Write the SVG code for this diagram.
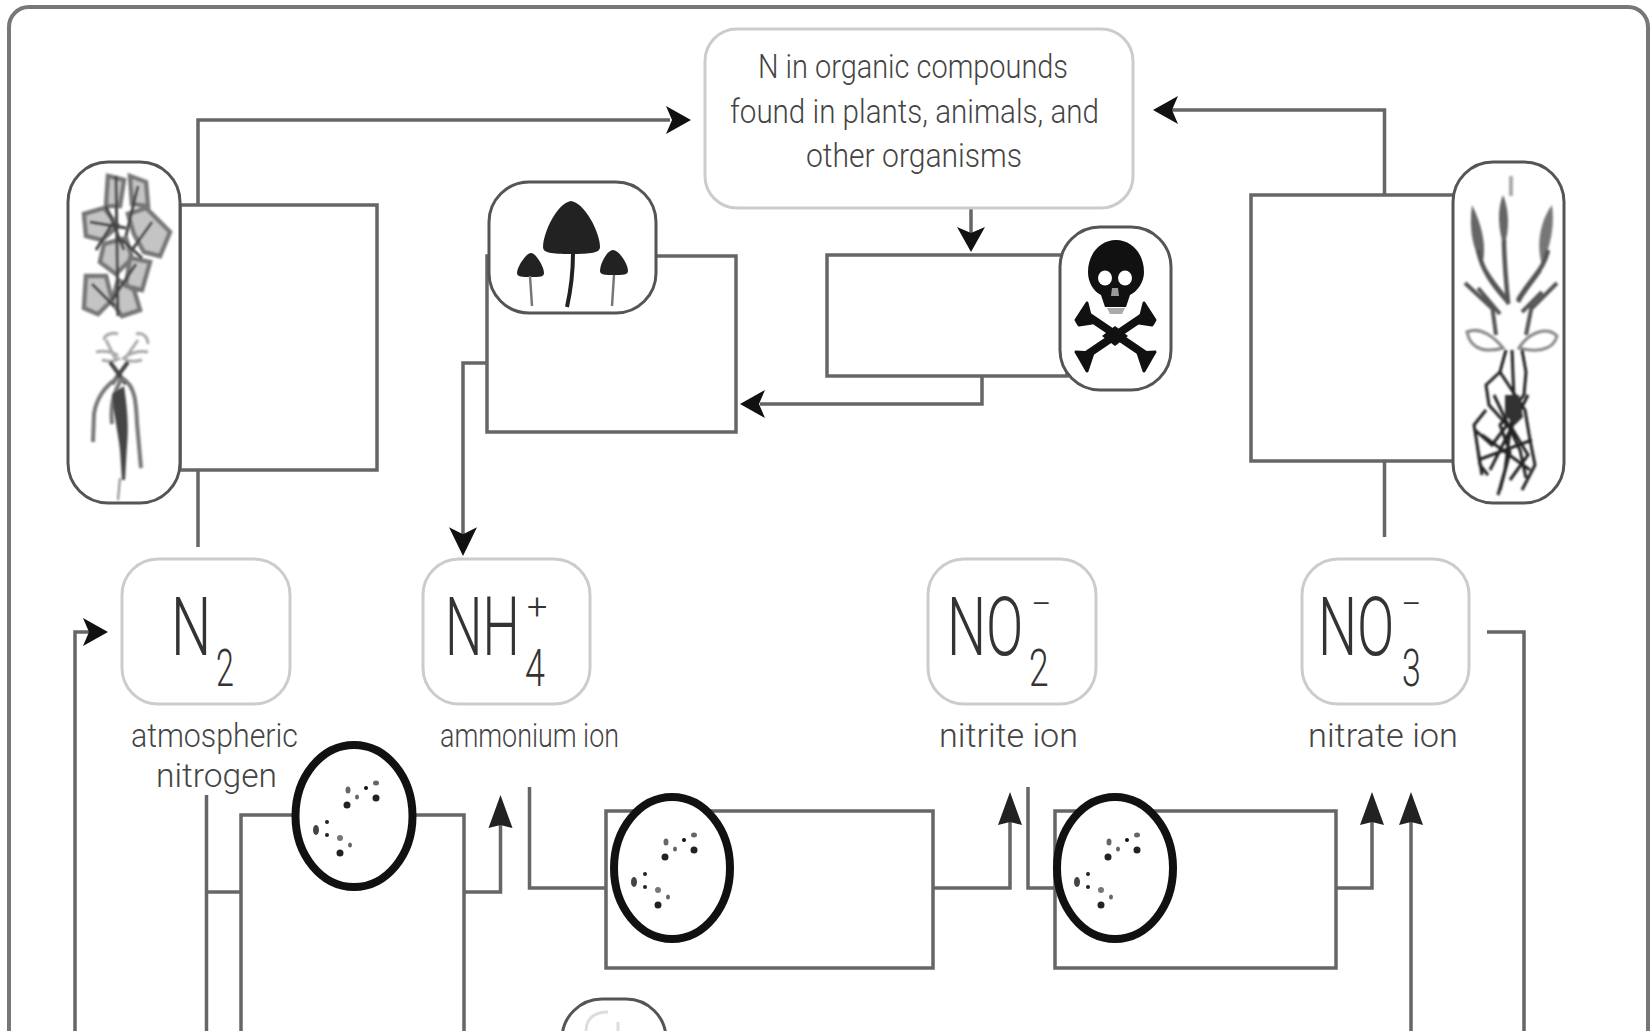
<svg xmlns="http://www.w3.org/2000/svg" width="1652" height="1031" viewBox="0 0 1652 1031">
<style>
.ln{fill:none;stroke:#666;stroke-width:3.5;stroke-linejoin:miter}
.pill{fill:#fff;stroke:#555;stroke-width:3}
.nb{fill:#fff;stroke:#ccc;stroke-width:3}
.bac{fill:#fff;stroke:#111;stroke-width:8}
.t{font-family:"Roboto","Liberation Sans",sans-serif;font-weight:300;fill:#444}
.f{font-family:"Roboto","Liberation Sans",sans-serif;font-weight:300;fill:#333}
</style>
<defs>
<filter id="soft" x="-10%" y="-10%" width="120%" height="120%"><feGaussianBlur stdDeviation="0.8"/></filter>
<path id="ah" d="M0 0L-25 -14L-19 0L-25 14Z" fill="#111"/>
<path id="au" d="M0 0L-12 33L0 30L12 33Z" fill="#222"/>
<g id="dots">
<ellipse cx="-6" cy="-26" rx="2.500" ry="3.500" fill="#666"/><ellipse cx="-7" cy="-11" rx="3.500" ry="3.500" fill="#222"/><ellipse cx="3" cy="-19" rx="2" ry="2.500" fill="#666"/><ellipse cx="12" cy="-28" rx="2" ry="2" fill="#111"/><ellipse cx="22" cy="-33" rx="3" ry="2.500" fill="#666"/><ellipse cx="22" cy="-18" rx="3.500" ry="3.500" fill="#222"/>
<ellipse cx="-38" cy="14" rx="3" ry="5" fill="#444"/><ellipse cx="-27" cy="6" rx="2" ry="2" fill="#222"/><ellipse cx="-27" cy="19" rx="2" ry="2" fill="#222"/><ellipse cx="-14" cy="22" rx="3" ry="3" fill="#777"/><ellipse cx="-4" cy="29" rx="2" ry="2.500" fill="#666"/><ellipse cx="-14" cy="37" rx="3.500" ry="3.500" fill="#222"/>
</g>
</defs>
<rect width="1652" height="1031" fill="#fff"/>
<rect x="9" y="7" width="1639" height="1100" rx="20" fill="none" stroke="#777" stroke-width="4"/>
<g id="connectors">
<path class="ln" d="M198 205V120H670"/><path class="ln" d="M198 470V547"/>
<rect class="ln" x="180" y="205" width="197" height="265"/>
<rect class="ln" x="487" y="256" width="249" height="176"/>
<path class="ln" d="M487 363H463V535"/>
<path class="ln" d="M982 376V404H760"/>
<rect class="ln" x="827" y="255" width="240" height="121"/>
<path class="ln" d="M971 208V235"/>
<rect class="ln" x="1251" y="195" width="210" height="266"/>
<path class="ln" d="M1384.500 195V110H1172"/><path class="ln" d="M1384.500 461V537"/>
<path class="ln" d="M75 1031V632H90"/>
<path class="ln" d="M206.500 795V1031"/><path class="ln" d="M206.500 892H241"/>
<path class="ln" d="M241 1031V815H464V1031"/>
<path class="ln" d="M464 892H500.500V820"/>
<path class="ln" d="M529.500 787V888H606"/>
<path class="ln" d="M606 811H933V968H606Z"/>
<path class="ln" d="M933 888H1010V815"/>
<path class="ln" d="M1028 787V888H1055"/>
<path class="ln" d="M1055 811H1336V968H1055Z"/>
<path class="ln" d="M1336 888H1372V815"/>
<path class="ln" d="M1411 1031V815"/>
<path class="ln" d="M1487 632H1524V1031"/>
<use href="#ah" transform="translate(691 120)"/>
<use href="#ah" transform="translate(1153 110) rotate(180)"/>
<use href="#ah" transform="translate(971 252) rotate(90)"/>
<use href="#ah" transform="translate(740 404) rotate(180)"/>
<use href="#ah" transform="translate(463 556) rotate(90) scale(1.150 1)"/>
<use href="#ah" transform="translate(108 632)"/>
<use href="#au" transform="translate(500.500 795)"/>
<use href="#au" transform="translate(1010 792)"/>
<use href="#au" transform="translate(1372 792)"/>
<use href="#au" transform="translate(1411 792)"/>
</g>
<g id="organic">
<rect class="nb" x="705" y="29" width="428" height="179" rx="32"/>
<text class="t" x="758" y="78" font-size="34" textLength="310" lengthAdjust="spacingAndGlyphs">N in organic compounds</text>
<text class="t" x="730" y="123" font-size="34" textLength="369" lengthAdjust="spacingAndGlyphs">found in plants, animals, and</text>
<text class="t" x="806" y="167" font-size="34" textLength="216" lengthAdjust="spacingAndGlyphs">other organisms</text>
</g>
<g id="plant-left">
<rect class="pill" x="68" y="162" width="112" height="341" rx="40"/>
<g filter="url(#soft)" fill="none">
<path d="M108 176L124 180L120 206L106 206ZM130 176L146 182L148 206L132 204ZM84 214L104 208L118 226L102 240L86 236ZM128 214L146 208L170 232L160 256L144 252L134 234ZM104 244L126 238L132 258L116 274L100 262ZM130 258L150 262L142 290L126 286ZM86 276L106 276L112 300L98 314L84 308ZM118 280L134 290L140 310L122 316L112 302Z" stroke="#777" stroke-width="4.500" fill="#c4c4c4"/>
<path d="M116 176L118 316M138 186L126 236M90 222L126 228M152 222L132 250M106 206L124 250M92 284L114 306M136 264L112 300M122 240L142 258M96 250L112 224" stroke="#444" stroke-width="3"/>
<path d="M104 340c0-6 10-8 14-6M136 334c8-2 12 4 12 10M96 352c8-2 18 0 22 4M148 352c-10-2-20 2-24 6M106 340L116 360M138 340L124 360M102 360c8 2 12 2 18-2M142 360c-8 2-12 2-20-2" stroke="#aaa" stroke-width="3"/>
<path d="M110 362L126 384M128 362L112 384" stroke="#444" stroke-width="4"/>
<path d="M118 378c-14 8-22 22-24 36l-1 28M122 378c-8 14-12 26-10 46M122 378c14 8 14 26 15 45l4 45" stroke="#777" stroke-width="4"/>
<path d="M112 394c2 22 6 38 8 56l2 30h3l2-34c2-20 0-40-3-60Z" fill="#444"/>
<path d="M120 478L118 500" stroke="#888" stroke-width="2"/>
</g>
</g>
<g id="mushrooms">
<rect class="pill" x="489" y="182" width="167" height="131" rx="40"/>
<path d="M571 201c-14 2-28 32-28 46 0 6 8 7 28 7s29-1 29-7c0-14-15-44-29-46Z" fill="#222"/>
<path d="M573 253c0 20-2 36-6 54" fill="none" stroke="#222" stroke-width="4"/>
<path d="M531 253c-5 0-14 14-14 20 0 4 5 4 14 4s13 0 13-4c0-6-8-20-13-20Z" fill="#222"/>
<path d="M613 250c-6 0-13 14-13 21 0 4 5 4 14 4s14 0 14-4c0-7-9-21-15-21Z" fill="#222"/>
<path d="M530 276l2 30M614 275l-2 31" fill="none" stroke="#777" stroke-width="2.500"/>
</g>
<g id="skull">
<rect class="pill" x="1060" y="227" width="111" height="163" rx="40"/>
<path d="M1116 240c-16 0-28 14-28 32 0 10 5 19 13 23l4 12h21l4-12c8-4 14-13 14-23 0-18-12-32-28-32Z" fill="#111"/>
<ellipse cx="1105" cy="278" rx="7" ry="7.500" fill="#fff"/><ellipse cx="1125" cy="278" rx="7" ry="7.500" fill="#fff"/>
<path d="M1112 288h6l1 8h-8Z" fill="#999"/><path d="M1107 308h18l-3 6h-12Z" fill="#aaa"/>
<path d="M1085 314L1147 356M1147 314L1085 356" stroke="#111" stroke-width="8" fill="none"/>
<path d="M1115 326L1128 336L1115 346L1102 336Z" fill="#111"/>
<path d="M1087 303l-11 17 3 5 13-2ZM1144 303l11 17-3 5-13-2ZM1076 352l3 5 8 14 6-18ZM1155 352l-3 5-8 14-6-18Z" fill="#111" stroke="#111" stroke-width="3" stroke-linejoin="round"/>
</g>
<g id="plant-right">
<rect class="pill" x="1453" y="162" width="111" height="341" rx="40"/>
<g filter="url(#soft)" fill="none">
<path d="M1511 176v20" stroke="#aaa" stroke-width="4"/>
<path d="M1503 195c-6 14-5 34 1 52 6-18 5-38-1-52Z" fill="#666"/>
<path d="M1472 205c-3 22 0 42 10 60 6-20 -2-44-10-60Z" fill="#666"/>
<path d="M1552 205c3 22-2 42-10 60-6-20-2-44 10-60Z" fill="#777"/>
<path d="M1478 250c4 20 14 34 30 52M1504 240c0 20 2 40 4 62M1548 250c-4 20-16 26-30 50M1485 270c8 14 18 24 24 34M1540 270c-8 12-16 20-22 32" stroke="#555" stroke-width="4.500"/>
<path d="M1465 283L1494 310M1478 288L1500 314M1557 283L1532 308M1542 292L1522 312M1492 305L1496 335M1532 305L1526 335" stroke="#555" stroke-width="4"/>
<path d="M1467 332c14-6 28 6 36 16-14 4-32 4-36-16ZM1557 336c-10-10-28-4-38 12 14 4 34 4 38-12Z" stroke="#888" stroke-width="3"/>
<path d="M1506 350L1500 372L1486 385L1489 405L1507 425L1492 445L1475 430L1480 465L1488 475M1522 350L1526 372L1524 395L1500 425L1510 452L1500 490M1500 372L1525 410L1530 440L1535 465L1522 490M1486 410L1474 425L1482 475M1510 425L1528 455L1510 480M1512 350L1514 400L1505 470L1498 495M1494 395L1520 450L1526 478M1528 395L1490 470M1482 435L1530 470M1478 460L1532 440" stroke="#222" stroke-width="3"/>
<path d="M1505 395l14 0 4 22-8 8-10-10Z" fill="#333"/>
</g>
</g>
<g id="n2">
<rect class="nb" x="122" y="559" width="168" height="145" rx="36"/>
<text class="f" transform="translate(171 655) scale(.7 1)" font-size="81">N</text>
<text class="f" transform="translate(216 686) scale(.62 1)" font-size="52">2</text>
<text class="t" x="131" y="747" font-size="34" textLength="167" lengthAdjust="spacingAndGlyphs">atmospheric</text>
<text class="t" x="156" y="787" font-size="34" textLength="121" lengthAdjust="spacingAndGlyphs">nitrogen</text>
</g>
<g id="nh4">
<rect class="nb" x="423" y="559" width="167" height="145" rx="36"/>
<text class="f" transform="translate(445 655) scale(.65 1)" font-size="81">NH</text>
<text class="f" x="527" y="619" font-size="36">+</text>
<text class="f" transform="translate(525 686) scale(.69 1)" font-size="52">4</text>
<text class="t" x="440" y="747" font-size="34" textLength="179" lengthAdjust="spacingAndGlyphs">ammonium ion</text>
</g>
<g id="no2">
<rect class="nb" x="928" y="559" width="168" height="145" rx="36"/>
<text class="f" transform="translate(947 655) scale(.68 1)" font-size="81">NO</text>
<text class="f" x="1031" y="616" font-size="36">−</text>
<text class="f" transform="translate(1029 686) scale(.68 1)" font-size="52">2</text>
<text class="t" x="939" y="747" font-size="34" textLength="139" lengthAdjust="spacingAndGlyphs">nitrite ion</text>
</g>
<g id="no3">
<rect class="nb" x="1302" y="559" width="167" height="145" rx="36"/>
<text class="f" transform="translate(1318 655) scale(.68 1)" font-size="81">NO</text>
<text class="f" x="1401" y="616" font-size="36">−</text>
<text class="f" transform="translate(1402 686) scale(.65 1)" font-size="52">3</text>
<text class="t" x="1308" y="747" font-size="34" textLength="150" lengthAdjust="spacingAndGlyphs">nitrate ion</text>
</g>
<g id="bacteria-1"><ellipse class="bac" cx="354" cy="816" rx="58.500" ry="71"/><use href="#dots" transform="translate(354 816)"/></g>
<g id="bacteria-2"><ellipse class="bac" cx="672" cy="868" rx="58" ry="71"/><use href="#dots" transform="translate(672 868)"/></g>
<g id="bacteria-3"><ellipse class="bac" cx="1115" cy="868" rx="58" ry="71"/><use href="#dots" transform="translate(1115 868)"/></g>
<g id="bottom-pill"><rect class="pill" x="562" y="999" width="104" height="160" rx="40"/><path d="M586 1031c0-12 8-19 22-19M618 1022v9" fill="none" stroke="#ddd" stroke-width="3"/></g>
</svg>
